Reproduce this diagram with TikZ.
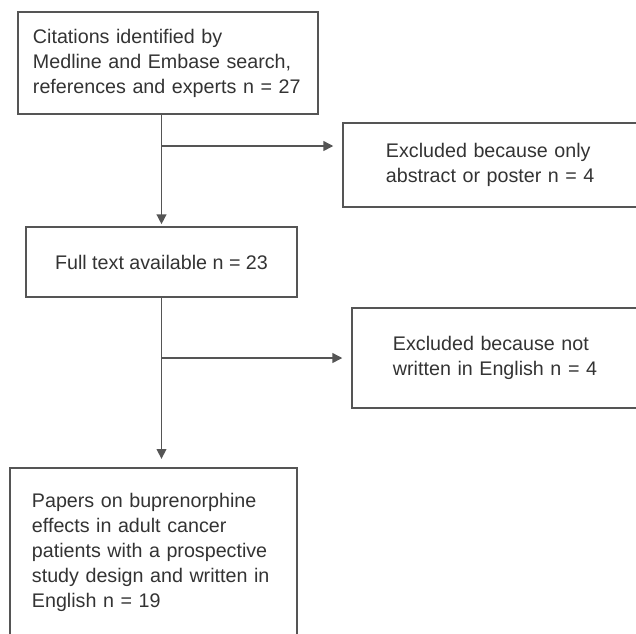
\documentclass[tikz,border=0pt]{standalone}
\usepackage{fontspec}
\setmainfont{Liberation Sans}
\usetikzlibrary{arrows.meta}
\definecolor{linegray}{HTML}{555555}
\definecolor{textgray}{HTML}{333333}
\begin{document}
\begin{tikzpicture}[x=0.025cm,y=-0.025cm,
		box/.style={rectangle,draw=linegray,line width=1pt,align=left,text=textgray,
			font=\fontsize{14pt}{17.8pt}\selectfont},
		arr/.style={draw=linegray,line width=1pt,-{Triangle[length=7pt,width=7pt]}}]
		\useasboundingbox (0,0) rectangle (636,633);
		\node[box,inner xsep=0.375cm,text width=6.75cm,minimum width=7.5cm,minimum height=2.55cm] (b1) at (168,63)
			{Citations identified by\\Medline and Embase search,\\references and experts n = 27};
		\node[box,inner xsep=1.075cm,text width=5.525cm,minimum width=7.675cm,minimum height=2.1cm] (b2) at (496.5,165)
			{Excluded because only\\abstract or poster n = 4};
		\node[box,minimum width=6.775cm,minimum height=1.75cm] (b3) at (161.5,262)
			{Full text available n = 23};
		\node[box,inner xsep=1.025cm,text width=5.4cm,minimum width=7.45cm,minimum height=2.5cm] (b4) at (501,358)
			{Excluded because not\\written in English n = 4};
		\node[box,inner xsep=0.55cm,text width=6.075cm,minimum width=7.175cm,minimum height=4.2cm] (b5) at (153.5,552)
			{Papers on buprenorphine\\effects in adult cancer\\patients with a prospective\\study design and written in\\English n = 19};
		\coordinate (j1) at (161.5,146);
		\coordinate (j2) at (161.5,358);
		\draw[arr,shorten >=1.5pt] (b1.south -| b3.north) -- (b3.north);
		\draw[arr,shorten >=6.4pt] (j1) -- (j1 -| b2.west);
		\draw[arr,shorten >=6pt] (b3.south) -- (b3.south |- b5.north);
		\draw[arr,shorten >=6.4pt] (j2) -- (b4.west);
	\end{tikzpicture}
\end{document}
